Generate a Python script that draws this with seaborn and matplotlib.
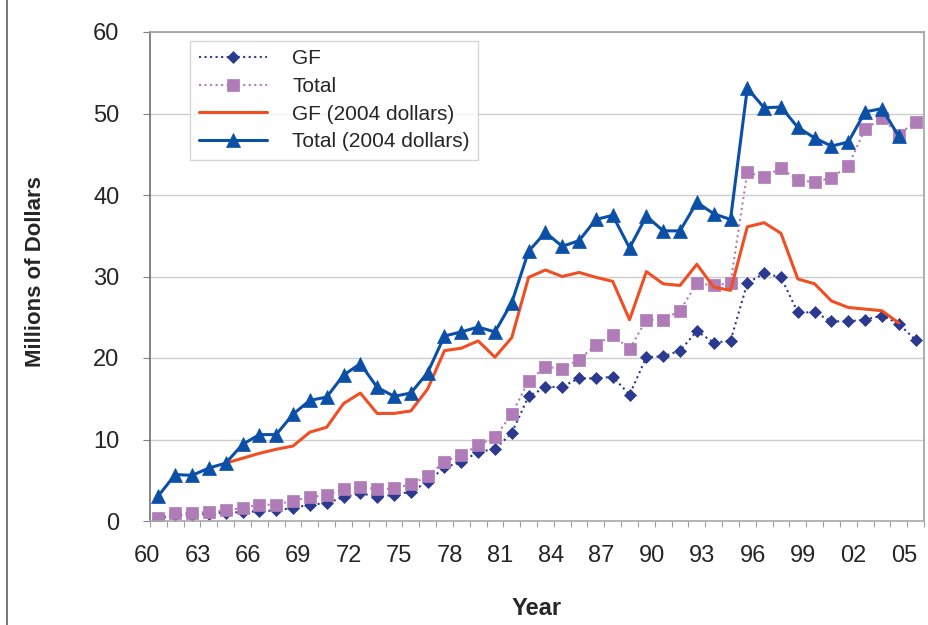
import numpy as np
import pandas as pd
import matplotlib
matplotlib.use("Agg")
import matplotlib.pyplot as plt
import matplotlib.transforms as mtransforms
from matplotlib.lines import Line2D
import seaborn as sns

# Values (millions of dollars), 1961-2006
years = list(range(1961, 2007))

gf = [0.3, 0.7, 0.7, 0.9, 1.0, 1.1, 1.2, 1.3, 1.6, 2.0,
      2.2, 2.9, 3.4, 3.0, 3.2, 3.6, 4.8, 6.6, 7.2, 8.5,
      8.8, 10.8, 15.3, 16.4, 16.5, 17.5, 17.5, 17.7, 15.5, 20.1,
      20.2, 20.9, 23.3, 21.9, 22.1, 29.2, 30.4, 29.9, 25.6, 25.6,
      24.5, 24.5, 24.7, 25.2, 24.2, 22.2]

total = [0.4, 1.0, 1.0, 1.1, 1.3, 1.6, 2.0, 2.0, 2.5, 2.9,
         3.2, 3.9, 4.2, 3.9, 4.0, 4.5, 5.5, 7.3, 8.1, 9.3,
         10.3, 13.1, 17.2, 18.9, 18.7, 19.8, 21.6, 22.8, 21.1, 24.7,
         24.7, 25.8, 29.2, 28.9, 29.2, 42.8, 42.2, 43.3, 41.8, 41.6,
         42.1, 43.6, 48.1, 49.4, 47.4, 49.0]

gf_2004 = [np.nan, np.nan, np.nan, np.nan, 7.1, 7.7, 8.3, 8.8, 9.2, 10.9,
           11.5, 14.4, 15.7, 13.2, 13.2, 13.5, 16.2, 20.9, 21.2, 22.1,
           20.1, 22.5, 29.9, 30.8, 30.0, 30.5, 29.9, 29.4, 24.7, 30.6,
           29.1, 28.9, 31.5, 28.7, 28.3, 36.1, 36.6, 35.3, 29.7, 29.1,
           27.0, 26.2, 26.0, 25.8, 24.3, np.nan]

total_2004 = [3.1, 5.7, 5.6, 6.5, 7.1, 9.4, 10.6, 10.6, 13.1, 14.8,
              15.2, 17.9, 19.3, 16.4, 15.3, 15.7, 18.2, 22.7, 23.2, 23.8,
              23.2, 26.8, 33.1, 35.4, 33.7, 34.4, 37.0, 37.5, 33.5, 37.4,
              35.6, 35.6, 39.1, 37.7, 37.0, 53.1, 50.7, 50.8, 48.3, 47.0,
              46.0, 46.5, 50.2, 50.6, 47.2, np.nan]

tick_labels = ["60", "63", "66", "69", "72", "75", "78", "81",
               "84", "87", "90", "93", "96", "99", "02", "05"]

df = pd.DataFrame({"year": years, "GF": gf, "Total": total,
                   "GF (2004 dollars)": gf_2004,
                   "Total (2004 dollars)": total_2004})

sns.set_theme(style="white")
plt.rcParams["font.family"] = ["Liberation Sans", "DejaVu Sans"]

fig = plt.figure(figsize=(9.29, 6.25), dpi=100)
ax = fig.add_axes([150 / 929, 104 / 625, 774 / 929, 489 / 625])

navy = "#2B3A8E"
purple = "#B07CB8"
red = "#F04E23"
blue = "#0B50A6"

sns.lineplot(data=df, x="year", y="GF", ax=ax, color=navy, linestyle=":",
             linewidth=1.5, marker="D", markersize=6.5, markeredgecolor=navy,
             markeredgewidth=0.5, label="GF")
sns.lineplot(data=df, x="year", y="Total", ax=ax, color=purple, linestyle=":",
             linewidth=1.5, marker="s", markersize=8.5, markeredgecolor=purple,
             markeredgewidth=0.5, label="Total")
sns.lineplot(data=df, x="year", y="GF (2004 dollars)", ax=ax, color=red,
             linewidth=2.2, label="GF (2004 dollars)")
sns.lineplot(data=df, x="year", y="Total (2004 dollars)", ax=ax, color=blue,
             linewidth=2.2, marker="^", markersize=9.5, markeredgecolor=blue,
             markeredgewidth=0.5, label="Total (2004 dollars)")

# axes
ax.set_xlim(1960.5, 2006.5)
ax.set_ylim(0, 60)
ax.set_yticks(range(0, 61, 10))
boundaries = np.arange(1960.5, 2007, 1.0)
ax.set_xticks(boundaries)
labels = []
for i in range(len(boundaries)):
    labels.append(tick_labels[i // 3] if i % 3 == 0 and i // 3 < len(tick_labels) else "")
ax.set_xticklabels(labels)

ax.tick_params(axis="x", direction="out", length=4, width=0.8, color="#a0a0a0",
               pad=13, labelsize=17, bottom=True)
ax.tick_params(axis="y", direction="out", length=5, width=0.8, color="#808080",
               pad=17, labelsize=17, left=True)

# labels sit a little left of the category boundaries in the original
shift = mtransforms.ScaledTranslation(-3 / 100, 0, fig.dpi_scale_trans)
for lab in ax.get_xticklabels():
    lab.set_transform(lab.get_transform() + shift)

ax.yaxis.grid(True, color="#cccccc", linewidth=1)
ax.xaxis.grid(False)

for side in ["top", "right"]:
    ax.spines[side].set_color("#a0a0a0")
    ax.spines[side].set_linewidth(1.2)
ax.spines["left"].set_color("#707070")
ax.spines["left"].set_linewidth(1.2)
ax.spines["bottom"].set_color("#a8a8a8")
ax.spines["bottom"].set_linewidth(1.2)

ax.set_xlabel("Year", fontsize=17, fontweight="bold")
ax.set_ylabel("Millions of Dollars", fontsize=16, fontweight="bold")
ax.xaxis.set_label_coords(0.5, -0.155)
ax.yaxis.set_label_coords(-0.134, 0.51)

leg = ax.legend(loc="upper left", bbox_to_anchor=(0.052, 0.982), borderaxespad=0,
                fontsize=15, frameon=True, fancybox=False, handlelength=3.3,
                handletextpad=1.2, labelspacing=0.42, borderpad=0.4)
leg.get_frame().set_edgecolor("#cccccc")
leg.get_frame().set_linewidth(1)

# outer chart frame on the left
fig.add_artist(Line2D([7 / 929, 7 / 929], [0, 1], color="#606060", linewidth=1.2))

fig.savefig("out.png", dpi=100)
